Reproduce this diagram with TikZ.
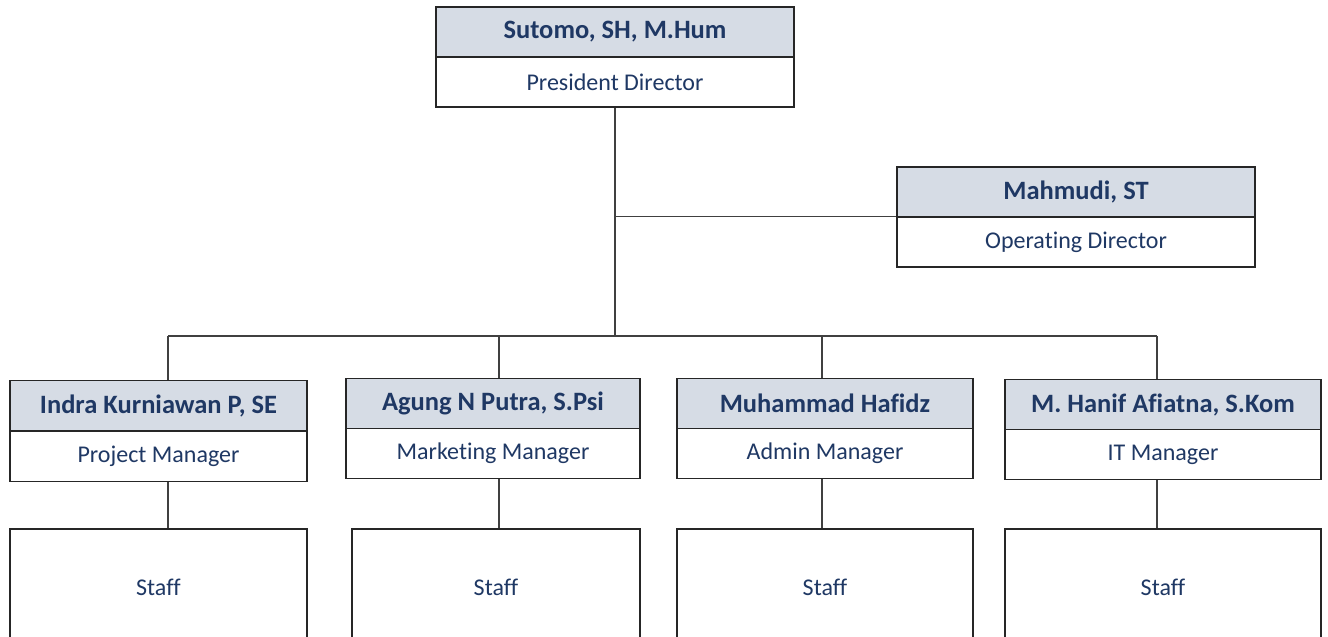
\documentclass[tikz,border=0pt]{standalone}
\usepackage{fontspec}
\setmainfont{Carlito}[Ligatures=NoCommon, Contextuals=NoAlternate]
\usepackage{tikz}
\usetikzlibrary{calc}
\definecolor{HeadFill}{HTML}{D6DCE5}
\definecolor{NameBlue}{HTML}{1F3864}
\definecolor{LinkGray}{HTML}{404040}

\tikzset{
  namebox/.style={draw=black!85, line width=1.4pt, fill=HeadFill, minimum height=50pt,
    inner sep=0pt, text=NameBlue, font=\fontsize{26.5}{30}\selectfont\bfseries},
  titlebox/.style={draw=black!85, line width=1.4pt, fill=white, minimum height=50pt,
    inner sep=0pt, text=NameBlue, font=\fontsize{24}{28}\selectfont},
  staffbox/.style={titlebox, minimum height=116pt},
  link/.style={draw=LinkGray, line width=1.5pt},
}

\begin{document}
\begin{tikzpicture}[x=1pt,y=-1pt]
   \useasboundingbox (0,0) rectangle (1328,637);
   \clip (0,0) rectangle (1328,637);

   \coordinate (bus) at (615,336);
   \coordinate (j1) at (168,336);
   \coordinate (j2) at (499,336);
   \coordinate (j3) at (822,336);
   \coordinate (j4) at (1157,336);

   \node[namebox, minimum width=358pt] (pres) at (615,32) {Sutomo, SH, M.Hum};
   \node[titlebox, minimum width=358pt] (presT) at (615,82) {President Director};

   \node[namebox, minimum width=358pt] (ops) at (1076,192) {Mahmudi, ST};
   \node[titlebox, minimum width=358pt] (opsT) at (1076,242) {Operating Director};

   \node[namebox, minimum width=297pt] (pm) at (158.5,405.5) {Indra Kurniawan P, SE};
   \node[titlebox, minimum width=297pt] (pmT) at (158.5,456.5) {Project Manager};
   \node[staffbox, minimum width=297pt] (st1) at (158.5,587) {Staff};

   \node[namebox, minimum width=294pt] (mm) at (493,403.5) {Agung N Putra, S.Psi};
   \node[titlebox, minimum width=294pt] (mmT) at (493,453.5) {Marketing Manager};
   \node[staffbox, minimum width=288pt] (st2) at (496,587) {Staff};

   \node[namebox, minimum width=296pt] (am) at (825,403.5) {Muhammad Hafidz};
   \node[titlebox, minimum width=296pt] (amT) at (825,453.5) {Admin Manager};
   \node[staffbox, minimum width=296pt] (st3) at (825,587) {Staff};

   \node[namebox, minimum width=316pt] (it) at (1163,404.5) {M. Hanif Afiatna, S.Kom};
   \node[titlebox, minimum width=316pt] (itT) at (1163,454.5) {IT Manager};
   \node[staffbox, minimum width=316pt] (st4) at (1163,587) {Staff};

   \draw[link] (presT.south) -- (bus);
   \draw[link] (opsT.north west) -- (opsT.north west -| presT.south);
   \draw[link] (j1) -- (j4);

   \draw[link] (j1) -- (j1 |- pm.north);
   \draw[link] (j2) -- (j2 |- mm.north);
   \draw[link] (j3) -- (j3 |- am.north);
   \draw[link] (j4) -- (j4 |- it.north);

   \draw[link] (j1 |- pmT.south) -- (j1 |- st1.north);
   \draw[link] (j2 |- mmT.south) -- (j2 |- st2.north);
   \draw[link] (j3 |- amT.south) -- (j3 |- st3.north);
   \draw[link] (j4 |- itT.south) -- (j4 |- st4.north);
\end{tikzpicture}
\end{document}
